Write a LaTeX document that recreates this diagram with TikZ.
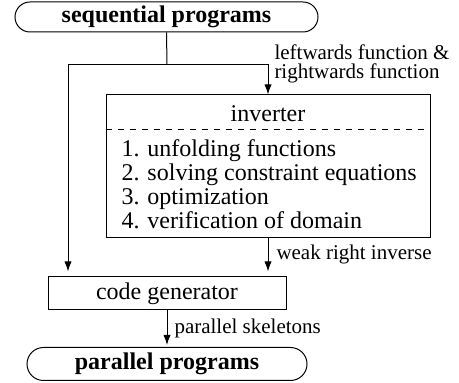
\documentclass[tikz,border=0pt]{standalone}
\usepackage{fontspec}
\setmainfont{Liberation Serif}
\usetikzlibrary{shapes.misc,arrows.meta}

\tikzset{
    term/.style={draw, rounded rectangle, inner sep=0pt, font=\fontsize{12}{12}\selectfont\bfseries},
    stage/.style={draw, rectangle, inner sep=0pt, font=\fontsize{12}{12}\selectfont},
    flowlabel/.style={anchor=west, inner sep=0pt, align=left, font=\fontsize{10.5}{10}\selectfont},
}

\begin{document}
\begin{tikzpicture}[x=0.5pt, y=-0.5pt, line width=0.5pt, >={Latex[length=5pt,width=3.6pt]}]
        \useasboundingbox (0,0) rectangle (459,383);
        % blocks
        \node [term, minimum width=151.5pt, minimum height=15pt] (seq) at (166.5,17) {sequential programs};
        \node [stage, minimum width=162pt, minimum height=71.5pt] (inv) at (268,166.5) {};
        \node [inner sep=0pt, font=\fontsize{12}{12}\selectfont] (invtitle) at (268,114) {inverter};
        \draw [dashed] ([yshift=-17.5pt]inv.north west) -- ([yshift=-17.5pt]inv.north east);
        \node [anchor=west, inner sep=0pt, align=left, font=\fontsize{12}{12}\selectfont] (steps) at (121,184)
            {1. unfolding functions\\2. solving constraint equations\\3. optimization\\4. verification of domain};
        \node [stage, minimum width=119pt, minimum height=16.5pt] (gen) at (167,293.5) {code generator};
        \node [term, minimum width=140pt, minimum height=16.5pt] (par) at (167,364) {parallel programs};
        % connectors
        \coordinate (split) at (167,65);
        \coordinate (lft) at (68,65);
        \draw (seq.south) -- (split);
        \draw [->] (split) -| (inv.north);
        \draw [->, shorten >=2.5pt] (split) -| (lft |- gen.north);
        \draw [->, shorten >=2.5pt] (inv.south) -- (inv.south |- gen.north);
        \draw [->, shorten >=1pt] (gen.south) -- (par.north);
        % labels
        \node [flowlabel] (lblfun) at (274,64) {leftwards function \&\\[-0.5pt]rightwards function};
        \node [flowlabel] (lblweak) at (276,254) {weak right inverse};
        \node [flowlabel] (lblskel) at (174,328) {parallel skeletons};
    \end{tikzpicture}
\end{document}
